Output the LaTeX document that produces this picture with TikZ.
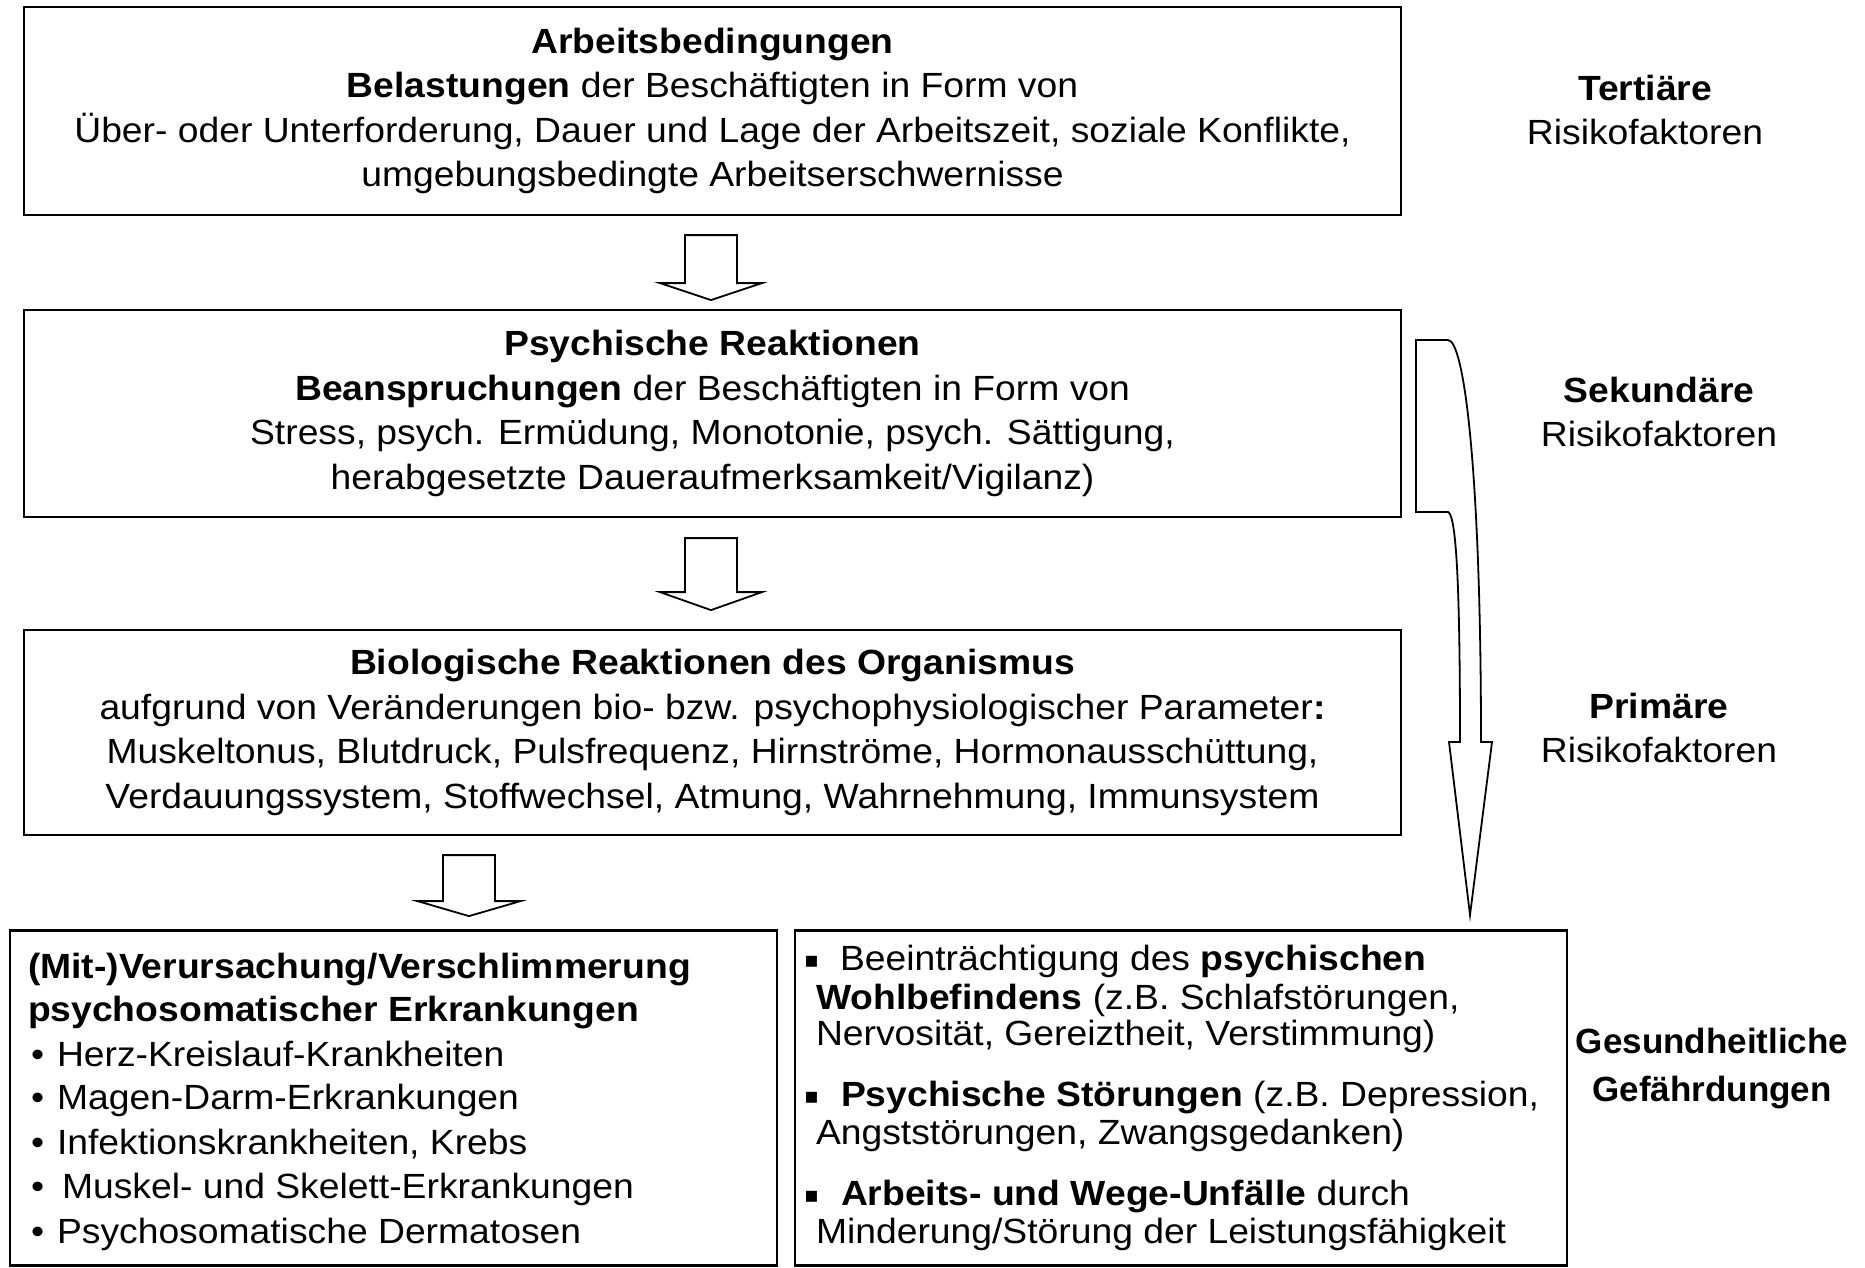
\documentclass[tikz,border=0pt]{standalone}
\usepackage{fontspec}
\setmainfont{Liberation Sans}[FakeStretch=1.065]
\newfontfamily\gfont{Liberation Sans}
\newfontfamily\symfont{DejaVu Sans}
\usetikzlibrary{calc}
\tikzset{
  box/.style={draw, line width=2.2pt, rectangle, inner sep=0pt, align=center,
    font=\fontsize{35}{44.6}\selectfont},
  txt/.style={inner sep=0pt, outer sep=0pt, anchor=base west, font=\fontsize{35}{44.6}\selectfont},
  lab/.style={inner sep=0pt, align=center, font=\fontsize{35}{44.6}\selectfont},
  blk/.style={draw, line width=1.8pt, fill=white, line join=miter},
  sq/.style={inner sep=0pt, anchor=base west, font=\symfont\fontsize{22}{24}\selectfont},
}
\begin{document}
\begin{tikzpicture}[x=1pt,y=-1pt]
\useasboundingbox (0,0) rectangle (1865,1268);

% main boxes
\node[box, minimum width=1377, minimum height=208] (b1) at (712.5,111)
 {\textbf{Arbeitsbedingungen}\\
  \textbf{Belastungen} der Beschäftigten in Form von\\
  Über- oder Unterforderung, Dauer und Lage der Arbeitszeit, soziale Konflikte,\\
  umgebungsbedingte Arbeitserschwernisse};
\node[box, minimum width=1377, minimum height=207] (b2) at (712.5,413.5)
 {\textbf{Psychische Reaktionen}\\
  \textbf{Beanspruchungen} der Beschäftigten in Form von\\
  Stress, psych. Ermüdung, Monotonie, psych. Sättigung,\\
  herabgesetzte Daueraufmerksamkeit/Vigilanz)};
\node[box, minimum width=1377, minimum height=205] (b3) at (712.5,732.5)
 {\textbf{Biologische Reaktionen des Organismus}\\
  aufgrund von Veränderungen bio- bzw. psychophysiologischer Parameter\textbf{:}\\
  Muskeltonus, Blutdruck, Pulsfrequenz, Hirnströme, Hormonausschüttung,\\
  Verdauungssystem, Stoffwechsel, Atmung, Wahrnehmung, Immunsystem};

% bottom boxes
\node[box, minimum width=767, minimum height=335] (b4) at (393.5,1098) {};
\node[box, minimum width=772, minimum height=335] (b5) at (1181,1098) {};

% box 4 text
\node[txt] (h1) at (28,978) {\textbf{(Mit-)Verursachung/Verschlimmerung}};
\node[txt] (h2) at (28,1021) {\textbf{psychosomatischer Erkrankungen}};
\node[txt] (l1) at (31,1066) {•\hspace{13pt}Herz-Kreislauf-Krankheiten};
\node[txt] (l2) at (31,1109) {•\hspace{13pt}Magen-Darm-Erkrankungen};
\node[txt] (l3) at (31,1154) {•\hspace{13pt}Infektionskrankheiten, Krebs};
\node[txt] (l4) at (31,1198) {•\hspace{18pt}Muskel- und Skelett-Erkrankungen};
\node[txt] (l5) at (31,1243) {•\hspace{13pt}Psychosomatische Dermatosen};

% box 5 text
\node[sq] (s1) at (804,967) {▪};
\node[txt] (r1) at (840,970) {Beeinträchtigung des \textbf{psychischen}};
\node[txt] (r2) at (816,1009) {\textbf{Wohlbefindens} (z.B. Schlafstörungen,};
\node[txt] (r3) at (816,1045) {Nervosität, Gereiztheit, Verstimmung)};
\node[sq] (s2) at (804,1103) {▪};
\node[txt] (r4) at (841,1106) {\textbf{Psychische Störungen} (z.B. Depression,};
\node[txt] (r5) at (816,1144) {Angststörungen, Zwangsgedanken)};
\node[sq] (s3) at (804,1202) {▪};
\node[txt] (r6) at (841,1205) {\textbf{Arbeits- und Wege-Unfälle} durch};
\node[txt] (r7) at (816,1243) {Minderung/Störung der Leistungsfähigkeit};

% right labels
\node[lab] (k1) at (1645,110) {\textbf{Tertiäre}\\Risikofaktoren};
\node[lab] (k2) at (1659,412) {\textbf{Sekundäre}\\Risikofaktoren};
\node[lab] (k3) at (1659,728) {\textbf{Primäre}\\Risikofaktoren};
\node[lab, font=\gfont\bfseries\fontsize{35}{48}\selectfont] (k4) at (1712,1069) {Gesundheitliche\\Gefährdungen};

% block arrows
\coordinate (aA) at ($(b1.south)+(-1.5,19)$);
\coordinate (aB) at ($(b2.south)+(-1.5,20)$);
\coordinate (aC) at ($(b3.south)+(-243.5,19)$);
\draw[blk] (aA) ++(-26,0) -- ++(52,0) -- ++(0,48) -- ++(25,0) -- ++(-51,17) -- ++(-51,-17) -- ++(25,0) -- cycle;
\draw[blk] (aB) ++(-26,0) -- ++(52,0) -- ++(0,54) -- ++(25,0) -- ++(-51,18) -- ++(-51,-18) -- ++(25,0) -- cycle;
\draw[blk] (aC) ++(-26,0) -- ++(52,0) -- ++(0,46) -- ++(25.5,0) -- ++(-51.5,15) -- ++(-51.5,-15) -- ++(25.5,0) -- cycle;

% curved arrow
\coordinate (ct) at (1416,340);
\draw[blk] (ct) -- (1448,340) .. controls (1464,340) and (1481,470) .. (1481,742)
  -- (1492,742) -- (1470,915) -- (1449,742) -- (1460,742)
  .. controls (1460,600) and (1457,515) .. (1448,512) -- (1416,512) -- cycle;
\end{tikzpicture}
\end{document}
